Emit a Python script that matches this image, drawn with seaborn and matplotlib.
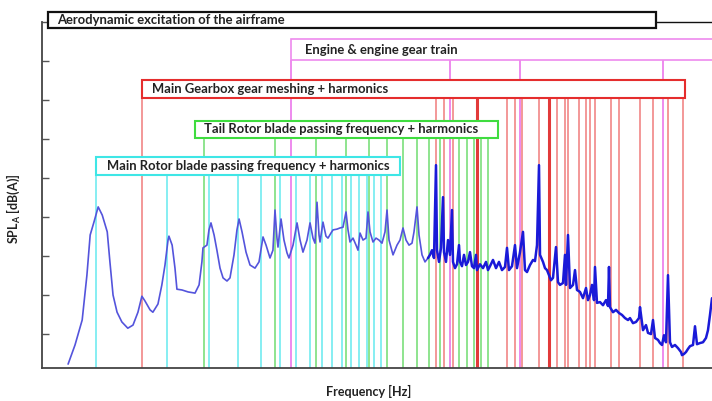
import numpy as np
import pandas as pd
import seaborn as sns
import matplotlib.pyplot as plt
from matplotlib.patches import Rectangle
from matplotlib.ticker import NullLocator

# harmonic lines (Hz)
main_rotor_hz = [17, 34, 51, 68, 85, 102, 119, 136, 153, 170, 187, 204, 221, 238, 255, 272]
tail_rotor_hz = [48.5, 97, 145.5, 194, 242.5, 291, 339.5, 388, 436.5, 485, 533.5, 582,
                 630.5, 679, 727.5, 776]
gearbox_hz = [26.5, 467, 505, 551, 934, 1010, 1081, 1276, 1521, 1645, 1693, 1886, 2020,
              2099, 2204, 2577, 2786, 3419, 3881, 4493, 5201]
gearbox_main_hz = [697, 1407]
engine_hz = [113.5, 536, 1060, 4280]

# measured spectrum, low frequency part
freq_low = [12.9, 13.8, 14.8, 15.5, 16.0, 16.6, 17.3, 18.0, 18.9, 19.4, 20.0, 20.8, 21.8, 23.1,
            24.3, 25.5, 26.5, 27.3, 28.7, 29.5, 31.0, 32.2, 33.2, 34.2, 34.5, 35.6, 36.6, 37.3,
            39.2, 41.6, 44.5, 46.3, 47.6, 48.1, 50.0, 51.0, 52.0, 53.6, 55.1, 56.8, 58.5, 60.8,
            62.6, 65.1, 67.0, 68.4, 70.4, 73.2, 76.1, 79.9, 83.1, 86.4, 89.0, 92.5, 95.2, 97.1,
            99.0, 100.0, 103.0, 106.0, 109.2, 111.3, 115.8, 120.4, 124.0, 127.6, 132.7, 136.7,
            140.7, 143.5, 146.3, 149.2, 150.7, 155.1, 159.7, 162.9, 167.7, 171.0, 177.8, 183.1,
            188.6, 194.2, 198.0, 201.9, 207.9, 214.1, 218.3, 222.6, 229.2, 236.0, 240.7, 245.4,
            252.7, 260.2, 267.9, 275.9, 284.1, 289.7, 295.4, 307.2, 319.4, 328.9, 338.6, 348.7,
            359.1, 369.7, 377.0, 388.2, 395.9, 407.6, 419.7, 432.2]
spl_low = [22.3, 27.2, 33.6, 45.1, 55.4, 58.7, 62.6, 60.5, 56.2, 48.5, 40.0, 35.6, 33.1, 31.5,
           32.3, 35.6, 39.7, 38.5, 36.2, 35.6, 37.7, 42.6, 47.7, 54.1, 55.1, 52.8, 46.9, 41.5,
           41.3, 40.8, 40.5, 42.6, 48.5, 52.1, 52.8, 56.7, 58.5, 55.4, 51.5, 46.9, 44.4, 43.6,
           44.4, 50.3, 56.7, 59.5, 56.2, 51.0, 47.7, 46.9, 48.5, 54.9, 52.8, 49.5, 51.5, 61.8,
           54.6, 52.3, 59.5, 54.1, 50.8, 49.5, 52.8, 58.5, 54.1, 51.0, 54.1, 58.5,
           54.6, 53.3, 63.8, 55.4, 53.6, 58.7, 55.1, 54.6, 55.9, 56.7, 56.9, 57.2,
           57.4, 61.3, 56.7, 53.6, 54.6, 52.8, 51.5, 55.9, 54.1, 54.6, 61.3, 56.2,
           53.6, 54.6, 54.1, 53.3, 56.2, 61.8, 54.1, 50.3, 52.8, 54.1, 57.2, 54.1,
           52.8, 53.3, 56.2, 62.6, 55.4, 50.3, 48.5, 49.5]

# measured spectrum, high frequency part (fine resolution)
freq_high = [432.2, 440.7, 449.4, 458.2, 467.2, 471.8, 481.1, 490.6, 500.3, 505.2, 515.1, 525.3,
             535.6, 546.1, 551.5, 562.4, 573.5, 584.8, 590.5, 602.1, 614.0, 626.1, 638.4, 651.0,
             663.8, 676.9, 690.2, 697.0, 717.7, 739.0, 761.0, 776.0, 791.3, 814.8, 839.0, 863.9,
             889.5, 916.0, 934.1, 952.4, 980.7, 1009.8, 1029.7, 1060.3, 1091.8, 1113.3, 1135.3,
             1169.0, 1203.8, 1227.5, 1251.7, 1276.4, 1288.9, 1327.2, 1353.4, 1379.9, 1407.2,
             1434.8, 1463.1, 1506.5, 1536.2, 1566.5, 1613.0, 1644.8, 1660.9, 1693.7, 1727.1,
             1778.5, 1813.6, 1849.0, 1903.9, 1960.5, 2018.9, 2058.7, 2099.2, 2140.6, 2182.7,
             2204.1, 2247.5, 2314.2, 2383.0, 2453.8, 2502.2, 2526.7, 2551.4, 2627.2, 2705.2,
             2785.7, 2868.4, 2953.6, 3041.4, 3101.2, 3193.5, 3288.4, 3386.1, 3419.2, 3520.8,
             3625.4, 3697.0, 3806.6, 3881.5, 3958.1, 4075.7, 4155.8, 4237.9, 4321.3, 4406.6,
             4493.0, 4581.8, 4672.0, 4811.0, 4953.9, 5100.9, 5151.0, 5252.4, 5355.7, 5461.6,
             5569.3, 5734.6, 5847.5, 5962.8, 6139.9, 6322.3, 6510.0, 6638.0, 6769.0, 6903.0]
spl_high = [49.5, 50.3, 51.5, 49.5, 73.3, 51.5, 48.5, 52.1, 65.1, 51.0, 48.5, 54.1,
            50.3, 61.8, 48.5, 46.9, 47.9, 52.8, 48.5, 47.4, 50.3, 47.7, 48.5, 51.0,
            47.4, 46.9, 50.3, 46.4, 47.9, 46.9, 48.5, 46.4, 47.4, 49.0, 46.9, 48.5,
            46.4, 47.2, 52.1, 46.4, 47.4, 52.8, 46.9, 51.0, 56.2, 46.4, 45.9,
            47.7, 49.0, 48.7, 52.8, 73.3, 50.3, 48.5, 46.9, 46.4, 45.1,
            43.8, 44.4, 52.3, 43.3, 42.6, 43.1, 50.3, 42.6, 55.4, 41.8,
            42.6, 46.4, 41.3, 40.8, 39.2, 41.8, 38.7, 40.0, 42.6, 38.7,
            47.2, 38.0, 38.2, 37.4, 38.7, 37.2, 47.2, 36.9, 35.6, 36.2,
            35.4, 34.9, 34.1, 33.6, 34.1, 32.8, 33.1, 34.1, 36.9, 31.0,
            32.3, 30.3, 30.0, 33.6, 29.0, 28.5, 27.7, 27.2, 29.7, 27.9,
            45.1, 27.9, 26.7, 27.2, 26.4, 25.4, 24.6, 24.9, 25.4, 26.2,
            26.9, 27.2, 32.0, 27.4, 27.7, 27.9, 29.0, 31.0, 34.9, 39.2]

df_low = pd.DataFrame({"freq": freq_low, "spl": spl_low})
df_high = pd.DataFrame({"freq": freq_high, "spl": spl_high})

sns.set_style("white")
plt.rcParams['font.family'] = ['Lato', 'DejaVu Sans']
plt.rcParams['mathtext.fontset'] = 'custom'
plt.rcParams['mathtext.rm'] = 'Lato:bold'
plt.rcParams['mathtext.bf'] = 'Lato:bold'

fig = plt.figure(figsize=(7.12, 4.01), dpi=100)
ax = fig.add_axes([42/712, 33/401, 670/712, 346/401])
ax.set_xscale("log")
ax.set_xlim(10, 6903)
ax.set_ylim(21.3, 110)

y0 = 21.3
ax.vlines(main_rotor_hz, y0, 70.8, color="#86eef2", lw=1.4, zorder=1)
ax.vlines(tail_rotor_hz, y0, 80.3, color="#8ee48e", lw=1.4, zorder=1)
ax.vlines(gearbox_hz, y0, 90.5, color="#f29090", lw=1.3, zorder=1)
ax.vlines(gearbox_main_hz, y0, 90.5, color="#e23a3a", lw=2.2, zorder=1)
ax.vlines(engine_hz, y0, 100.3, color="#ee8aee", lw=1.4, zorder=1)

sns.lineplot(data=df_low, x="freq", y="spl", sort=False, color="#5454dc", lw=1.2, ax=ax, zorder=3)
sns.lineplot(data=df_high, x="freq", y="spl", sort=False, color="#1a1ad8", lw=1.8, ax=ax, zorder=3)

# labelled frequency bands
boxes = [
    ("Aerodynamic excitation of the airframe", 10.6, 3998, 108.5, 112.6, 11.6, "#111111", 1.6, 9.4),
    ("Engine & engine gear train", 113.5, 9000, 100.3, 105.6, 130, "#ee8aee", 1.2, 9.4),
    ("Main Gearbox gear meshing + harmonics", 26.6, 5303, 90.5, 95.1, 29.2, "#e52d2d", 1.5, 9.4),
    ("Tail Rotor blade passing frequency + harmonics", 44.5, 855, 80.3, 84.6, 48.5, "#3fdc3f", 1.5, 9.4),
    ("Main Rotor blade passing frequency + harmonics", 17, 329, 70.8, 75.4, 18.9, "#3ee6e6", 1.5, 9.4),
]
for label, xa, xb, ya, yb, xt, col, lw, fs in boxes:
    ax.add_patch(Rectangle((xa, ya), xb - xa, yb - ya, facecolor="white", edgecolor=col,
                           lw=lw, zorder=4, clip_on=False))
    ax.text(xt, (ya + yb) / 2, label, fontsize=fs, fontweight="bold", color="#222222",
            ha="left", va="center", zorder=5, clip_on=False)
ax.plot([3998, 6903], [110, 110], color="#111111", lw=1.0, clip_on=False, zorder=4)

ax.set_yticks(np.arange(30, 111, 10))
ax.tick_params(axis="y", direction="in", length=5, width=1, color="#555555", labelleft=False, left=True)
ax.tick_params(axis="x", which="both", bottom=False, labelbottom=False)
ax.xaxis.set_minor_locator(NullLocator())
for side in ["top", "right"]:
    ax.spines[side].set_visible(False)
for side in ["left", "bottom"]:
    ax.spines[side].set_color("#444444")
    ax.spines[side].set_linewidth(1.3)

ax.set_xlabel("Frequency [Hz]", fontsize=9, fontweight="bold", color="#222222")
ax.set_ylabel(r"SPL$_\mathrm{A}$ [dB(A)]", fontsize=9, fontweight="bold", color="#222222")
ax.xaxis.set_label_coords(0.487, -0.05)
ax.yaxis.set_label_coords(-0.03, 0.46)

plt.savefig("out.png", dpi=100)
